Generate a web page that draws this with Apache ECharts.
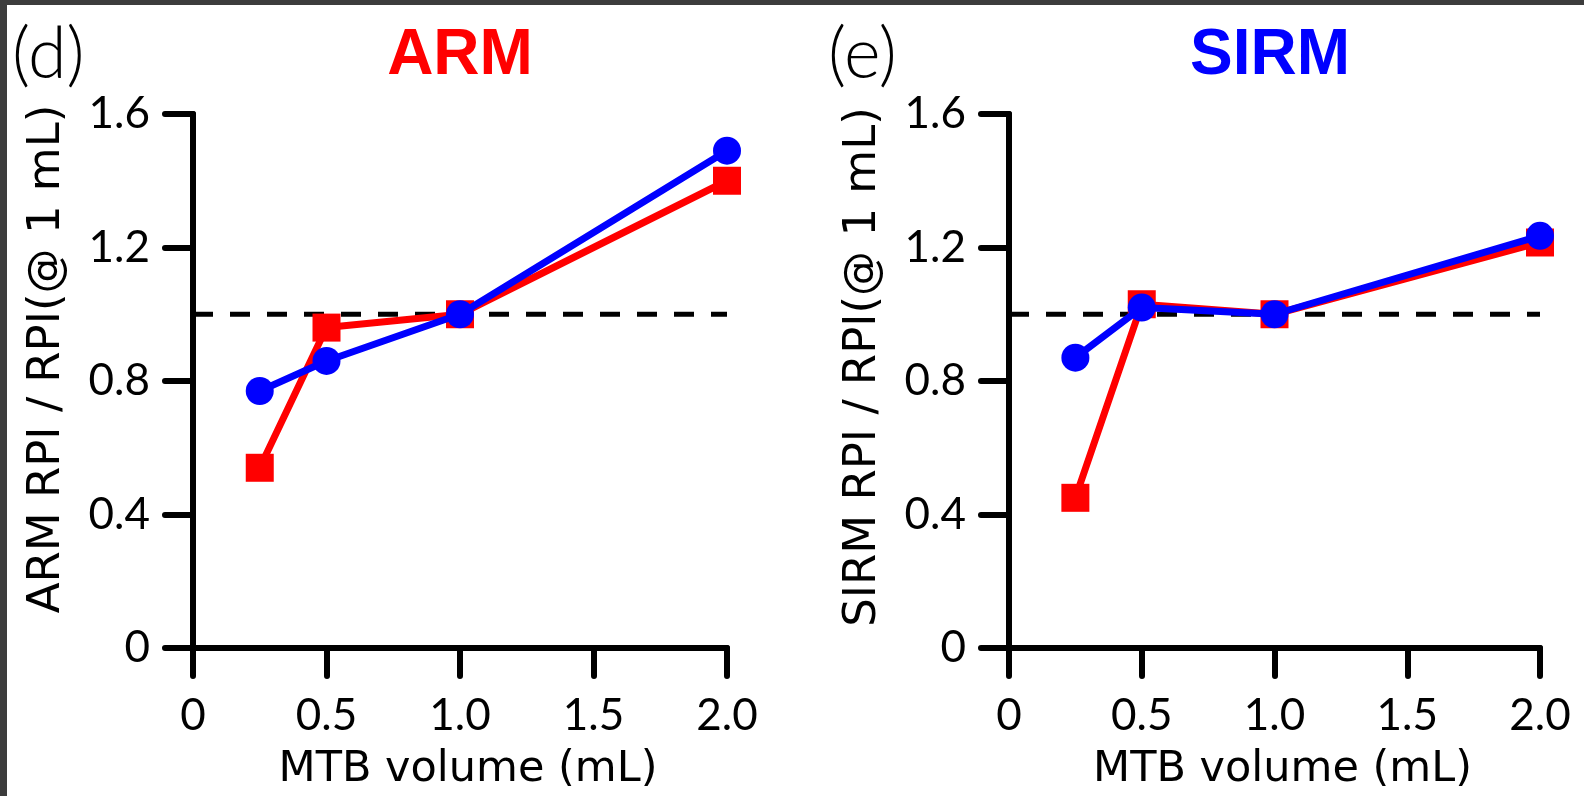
<!DOCTYPE html>
<html>
<head>
<meta charset="utf-8">
<script src="https://cdn.jsdelivr.net/npm/echarts@6/dist/echarts.min.js"></script>
<style>
html,body{margin:0;padding:0;width:1584px;height:796px;background:#3c3c3c;overflow:hidden;}
#chart{position:absolute;left:7px;top:5px;width:1577px;height:791px;background:#ffffff;}
</style>
</head>
<body>
<div id="chart"></div>
<script>
// ---- data ----
const volumes = [0.25, 0.5, 1.0, 2.0];
const armRed = [0.54, 0.96, 1.0, 1.40];
const armBlue = [0.77, 0.86, 1.0, 1.49];
const sirmRed = [0.45, 1.03, 1.0, 1.215];
const sirmBlue = [0.87, 1.02, 1.0, 1.235];
const refLineX = [0, 2.0];
const refLineY = 1.0;
const xTickLabels = ['0', '0.5', '1.0', '1.5', '2.0'];
const yTickLabels = ['0', '0.4', '0.8', '1.2', '1.6'];
const panelLetters = ['(d)', '(e)'];
const panelTitles = ['ARM', 'SIRM'];
const yNames = ['ARM RPI / RPI(@ 1 mL)', 'SIRM RPI / RPI(@ 1 mL)'];
const xName = 'MTB volume (mL)';

const RED = '#ff0000', BLUE = '#0000ff', BLACK = '#000000';
const FONT = 'Lato';
const NAMEFONT = 'DejaVu Sans';
const pair = (xs, ys) => xs.map((x, i) => [x, ys[i]]);

const grids = [
  {left: 186, top: 109, width: 534, height: 534},
  {left: 1002, top: 109, width: 531, height: 534}
];
const yNamePad = [44, 28];

function xAxis(i) {
  return {
    gridIndex: i, type: 'value', min: 0, max: 2, interval: 0.5,
    name: xName, nameLocation: 'middle', nameGap: 100,
    nameTextStyle: {fontFamily: NAMEFONT, fontSize: 43, color: BLACK, padding: [0, 0, 0, 16]},
    axisLine: {show: true, onZero: false, lineStyle: {color: BLACK, width: 6, cap: 'round'}},
    axisTick: {show: true, inside: false, length: 28, lineStyle: {color: BLACK, width: 6, cap: 'round'}},
    axisLabel: {fontFamily: FONT, fontSize: 44, color: BLACK, margin: 46,
      formatter: v => xTickLabels[Math.round(v / 0.5)]},
    splitLine: {show: false}
  };
}
function yAxis(i) {
  return {
    gridIndex: i, type: 'value', min: 0, max: 1.6, interval: 0.4,
    name: yNames[i], nameLocation: 'middle', nameGap: 123, nameRotate: 90,
    nameTextStyle: {fontFamily: NAMEFONT, fontSize: 45, color: BLACK, padding: [0, 0, 0, yNamePad[i]]},
    axisLine: {show: true, onZero: false, lineStyle: {color: BLACK, width: 6, cap: 'round'}},
    axisTick: {show: true, inside: false, length: 28, lineStyle: {color: BLACK, width: 6, cap: 'round'}},
    axisLabel: {fontFamily: FONT, fontSize: 44, color: BLACK, margin: 43,
      formatter: v => yTickLabels[Math.round(v / 0.4)]},
    splitLine: {show: false}
  };
}
function refSeries(i) {
  return {
    type: 'line', xAxisIndex: i, yAxisIndex: i, silent: true, symbol: 'none',
    data: refLineX.map(x => [x, refLineY]),
    lineStyle: {color: BLACK, width: 5, type: [20, 17]}, z: 1
  };
}
function dataSeries(i, ys, color, symbol) {
  return {
    type: 'line', xAxisIndex: i, yAxisIndex: i, data: pair(volumes, ys),
    symbol: symbol, symbolSize: 28, showAllSymbol: true,
    lineStyle: {color: color, width: 7},
    itemStyle: {color: color, borderWidth: 0},
    emphasis: {disabled: true}, z: symbol === 'circle' ? 4 : 3
  };
}

const chart = echarts.init(document.getElementById('chart'), null, {renderer: 'canvas'});
chart.setOption({
  animation: false,
  backgroundColor: '#ffffff',
  grid: grids,
  xAxis: [xAxis(0), xAxis(1)],
  yAxis: [yAxis(0), yAxis(1)],
  series: [
    refSeries(0), refSeries(1),
    dataSeries(0, armRed, RED, 'rect'),
    dataSeries(0, armBlue, BLUE, 'circle'),
    dataSeries(1, sirmRed, RED, 'rect'),
    dataSeries(1, sirmBlue, BLUE, 'circle')
  ],
  graphic: [
    {type: 'text', x: 5, y: 50, style: {text: panelLetters[0], font: '300 70px ' + FONT, fill: BLACK, textVerticalAlign: 'middle'}},
    {type: 'text', x: 821, y: 50, style: {text: panelLetters[1], font: '300 70px ' + FONT, fill: BLACK, textVerticalAlign: 'middle'}},
    {type: 'text', x: 453, y: 51, style: {text: panelTitles[0], font: 'bold 64px "Liberation Sans"', fill: RED, textAlign: 'center', textVerticalAlign: 'middle'}},
    {type: 'text', x: 1263, y: 51, style: {text: panelTitles[1], font: 'bold 64px "Liberation Sans"', fill: BLUE, textAlign: 'center', textVerticalAlign: 'middle'}}
  ]
});
</script>
</body>
</html>
